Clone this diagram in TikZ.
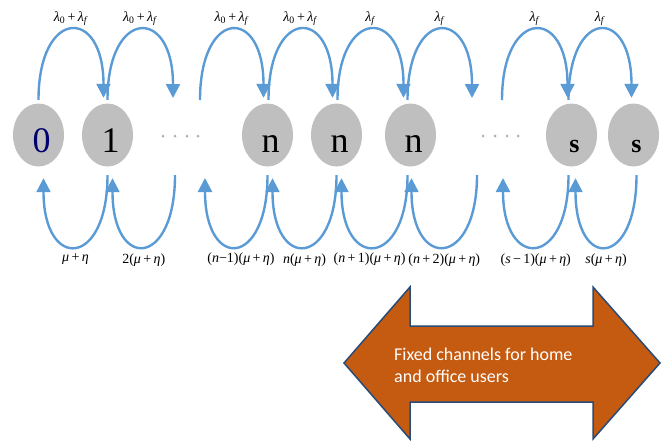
\documentclass[tikz,border=0pt]{standalone}
\usepackage{fontspec}
\setmainfont{Liberation Serif}
\newfontfamily\boxfont{Carlito}
\usepackage{xcolor}
\definecolor{arcblue}{RGB}{91,155,213}
\definecolor{stategray}{RGB}{191,191,191}
\definecolor{chanorange}{RGB}{197,90,17}
\definecolor{chanedge}{RGB}{40,75,120}
\definecolor{zeronavy}{RGB}{0,0,110}
\definecolor{dotgray}{RGB}{175,175,175}
\usepackage{tikz}
\usetikzlibrary{arrows.meta,shapes.geometric}
% rate symbols, set in the serif text font
\newcommand{\lamz}{\textit{λ}\textsubscript{0}}
\newcommand{\lamf}{\textit{λ}\textsubscript{\textit{f}}}
\newcommand{\mueta}{(\textit{μ}\,+\,\textit{η})}

\begin{document}
\begin{tikzpicture}[
  x=1pt,y=-1pt,
  state/.style={ellipse,fill=stategray,minimum width=51pt,minimum height=63pt,inner sep=0pt,
    text height=34pt,text depth=0pt,font=\fontsize{36}{36}\selectfont,execute at begin node={\hspace*{6pt}}},
  sstate/.style={state,font=\fontsize{26}{26}\selectfont\bfseries},
  fwd/.style={draw=arcblue,line width=2.4pt,-{Triangle[length=14pt,width=14pt]}},
  rate/.style={inner sep=1pt,font=\fontsize{14}{16}\selectfont},
  chanarrow/.style={fill=chanorange,draw=chanedge,line width=1.5pt,line join=miter},
  chantext/.style={text=white,align=left,inner sep=0pt,font=\boxfont\fontsize{18}{22}\selectfont}
]
  \useasboundingbox (0,0) rectangle (668,440);

  % states
  \node[state,text=zeronavy] (s0) at (38.5,135) {0};
  \node[state] (s1) at (107.5,135) {1};
  \node[state] (n1) at (267.5,135) {n};
  \node[state] (n2) at (336.5,135) {n};
  \node[state] (n3) at (410.5,135) {n};
  \node[sstate] (sA) at (571.5,135) {s};
  \node[sstate] (sB) at (633.5,135) {s};

  \foreach \x in {163,175,187,198,483,495,507,518}
    \fill[dotgray] (\x,136) circle[radius=1.5pt];

  % open ends
  \coordinate (a1) at (173,98);
  \coordinate (a2) at (200,100);
  \coordinate (a3) at (472,98);
  \coordinate (a4) at (502,100);
  \coordinate (b1) at (175,175);
  \coordinate (b2) at (205,178);
  \coordinate (b3) at (477,175);
  \coordinate (b4) at (503,178);

  % arrivals
  \draw[fwd] ([yshift=3.5pt]s0.north) .. controls +(0,-92) and +(0,-92) .. ([xshift=-4pt,yshift=5.5pt]s1.north)
    node[rate,above=2pt,pos=0.5] {\lamz\,+\,\lamf};
  \draw[fwd] ([yshift=3.5pt]s1.north) .. controls +(0,-92) and +(0,-92) .. (a1)
    node[rate,above=2pt,pos=0.5] {\lamz\,+\,\lamf};
  \draw[fwd] (a2) .. controls +(0,-92) and +(0,-92) .. ([xshift=-4pt,yshift=5.5pt]n1.north)
    node[rate,above=2pt,pos=0.5] {\lamz\,+\,\lamf};
  \draw[fwd] ([xshift=1pt,yshift=3.5pt]n1.north) .. controls +(0,-92) and +(0,-92) .. ([xshift=-4pt,yshift=5.5pt]n2.north)
    node[rate,above=2pt,pos=0.5] {\lamz\,+\,\lamf};
  \draw[fwd] ([xshift=1pt,yshift=3.5pt]n2.north) .. controls +(0,-92) and +(0,-92) .. ([xshift=-7pt,yshift=5.5pt]n3.north)
    node[rate,above=2pt,pos=0.5] {\lamf};
  \draw[fwd] ([xshift=-3pt,yshift=3.5pt]n3.north) .. controls +(0,-92) and +(0,-92) .. (a3)
    node[rate,above=2pt,pos=0.5] {\lamf};
  \draw[fwd] (a4) .. controls +(0,-92) and +(0,-92) .. ([xshift=-4pt,yshift=5.5pt]sA.north)
    node[rate,above=2pt,pos=0.5] {\lamf};
  \draw[fwd] ([xshift=-3pt,yshift=3.5pt]sA.north) .. controls +(0,-92) and +(0,-92) .. ([xshift=-2pt,yshift=5.5pt]sB.north)
    node[rate,above=2pt,pos=0.5] {\lamf};

  % departures
  \draw[fwd] ([yshift=-8.5pt]s1.south) .. controls +(0,93) and +(0,93) .. ([xshift=5pt,yshift=-11.5pt]s0.south)
    node[rate,below=5pt,pos=0.5] {\textit{μ}\,+\,\textit{η}};
  \draw[fwd] (b1) .. controls +(0,93) and +(0,93) .. ([xshift=5pt,yshift=-11.5pt]s1.south)
    node[rate,below=5pt,pos=0.5] {2\mueta};
  \draw[fwd] ([yshift=-8.5pt]n1.south) .. controls +(0,93) and +(0,93) .. (b2)
    node[rate,below=5pt,pos=0.45] {(\textit{n}−1)\mueta};
  \draw[fwd] ([yshift=-8.5pt]n2.south) .. controls +(0,93) and +(0,93) .. ([xshift=5pt,yshift=-11.5pt]n1.south)
    node[rate,below=5pt,pos=0.5] {\textit{n}\mueta};
  \draw[fwd] ([xshift=-3pt,yshift=-8.5pt]n3.south) .. controls +(0,93) and +(0,93) .. ([xshift=5pt,yshift=-11.5pt]n2.south)
    node[rate,below=5pt,pos=0.55] {(\textit{n}\,+\,1)\mueta};
  \draw[fwd] (b3) .. controls +(0,93) and +(0,93) .. ([xshift=1pt,yshift=-11.5pt]n3.south)
    node[rate,below=5pt,pos=0.5] {(\textit{n}\,+\,2)\mueta};
  \draw[fwd] ([xshift=-3pt,yshift=-8.5pt]sA.south) .. controls +(0,93) and +(0,93) .. (b4)
    node[rate,below=5pt,pos=0.5] {(\textit{s}\,−\,1)\mueta};
  \draw[fwd] ([xshift=3pt,yshift=-8.5pt]sB.south) .. controls +(0,93) and +(0,93) .. ([xshift=4pt,yshift=-11.5pt]sA.south)
    node[rate,below=5pt,pos=0.5] {\textit{s}\mueta};

  % fixed channels
  \draw[chanarrow] (344,363) -- (410,287) -- (410,326) -- (593,326) -- (593,287) -- (660,363)
    -- (593,439) -- (593,402) -- (410,402) -- (410,439) -- cycle;
  \node[chantext,anchor=west] (chan) at (394,365) {Fixed channels for home\\and office users};
\end{tikzpicture}
\end{document}
